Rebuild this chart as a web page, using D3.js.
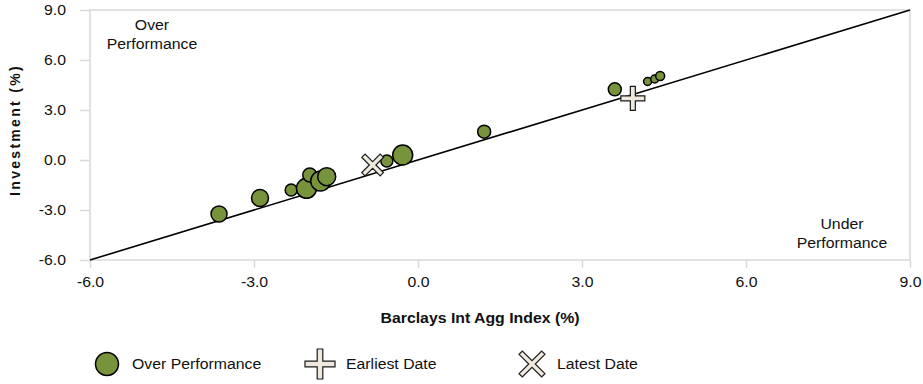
<!DOCTYPE html>
<html><head><meta charset="utf-8">
<script src="https://cdn.jsdelivr.net/npm/d3@7"></script>
<style>body{margin:0;background:#fff;}svg{display:block;font-family:"Liberation Sans",Arial,sans-serif;}</style>
</head><body>
<svg id="c" width="923" height="384"></svg>
<script>
const xVals = [-3.64, -2.89, -2.32, -2.04, -1.98, -1.78, -1.67, -0.57, -0.28, 1.21, 3.60, 4.20, 4.33, 4.43];
const yVals = [-3.24, -2.28, -1.80, -1.70, -0.90, -1.26, -1.00, -0.06, 0.30, 1.70, 4.24, 4.71, 4.86, 5.04];
const weights = [64, 72, 36, 100, 49, 100, 81, 36, 100, 42, 42, 16, 16, 20];
const earliest = [3.93, 3.70];
const latest = [-0.83, -0.30];
const ticks = [-6.0, -3.0, 0.0, 3.0, 6.0, 9.0];
const legendLabels = ["Over Performance", "Earliest Date", "Latest Date"];

const svg = d3.select("#c");
const x = d3.scaleLinear().domain([-6, 9]).range([90, 910]);
const y = d3.scaleLinear().domain([-6, 9]).range([260, 10]);
const r = d3.scaleSqrt().domain([0, 100]).range([0, 10]);
const grid = "#d9d9d9";
const green = "#77933c";
const markFill = "#efe9dd";
const fmt = v => d3.format(".1f")(v).replace("\u2212", "-");
const FS = 14;
const STRETCH = 1.13;

// frame
svg.append("rect").attr("x", x(-6)).attr("y", y(9)).attr("width", x(9) - x(-6)).attr("height", y(-6) - y(9))
  .attr("fill", "none").attr("stroke", grid).attr("stroke-width", 1.5);

// axes
const xAxis = svg.append("g").attr("transform", `translate(0,${y(-6)})`)
  .call(d3.axisBottom(x).tickValues(ticks).tickFormat(fmt).tickSize(8).tickPadding(8));
const yAxis = svg.append("g").attr("transform", `translate(${x(-6)},0)`)
  .call(d3.axisLeft(y).tickValues(ticks).tickFormat(fmt).tickSize(10).tickPadding(14));
[xAxis, yAxis].forEach(a => {
  a.select(".domain").remove();
  a.selectAll(".tick line").attr("stroke", grid).attr("stroke-width", 1.5);
  a.selectAll(".tick text").attr("font-size", FS).attr("fill", "#111").attr("font-family", '"Liberation Sans",Arial,sans-serif').classed("st", true);
});
xAxis.selectAll(".tick text").attr("dy", "0.8em");

// diagonal
svg.append("line").attr("x1", x(-6)).attr("y1", y(-6)).attr("x2", x(9)).attr("y2", y(9))
  .attr("stroke", "#000").attr("stroke-width", 1.6);

// axis titles
svg.append("text").attr("class", "st").attr("x", 480).attr("y", 323).attr("text-anchor", "middle")
  .attr("font-size", FS).attr("font-weight", "bold").attr("fill", "#111").text("Barclays Int Agg Index (%)");
svg.append("text").attr("transform", "translate(20,130) rotate(-90)").attr("text-anchor", "middle")
  .attr("font-size", FS).attr("font-weight", "bold").attr("letter-spacing", 2.3).attr("fill", "#111").text("Investment (%)");

// corner notes
const notes = [{t: ["Over", "Performance"], cx: 152, cy: 30}, {t: ["Under", "Performance"], cx: 842, cy: 229}];
notes.forEach(n => {
  const tx = svg.append("text").attr("text-anchor", "middle").attr("font-size", FS).attr("fill", "#111");
  n.t.forEach((s, i) => tx.append("tspan").attr("class", "st").attr("x", n.cx).attr("y", n.cy + i * 19).text(s));
});

// shapes
function plusPath(s, t) {
  return `M${-t},${-s}H${t}V${-t}H${s}V${t}H${t}V${s}H${-t}V${t}H${-s}V${-t}H${-t}Z`;
}
function drawPlus(g, cx, cy, s, t, rot) {
  g.append("path").attr("d", plusPath(s, t)).attr("transform", `translate(${cx},${cy}) rotate(${rot})`)
    .attr("fill", markFill).attr("stroke", "#1a1a1a").attr("stroke-width", 1.2);
}

// bubbles
const pts = xVals.map((v, i) => ({x: v, y: yVals[i], w: weights[i]}));
svg.append("g").selectAll("circle").data(pts).join("circle")
  .attr("cx", d => x(d.x)).attr("cy", d => y(d.y)).attr("r", d => r(d.w))
  .attr("fill", green).attr("stroke", "#000").attr("stroke-width", 1.5);

drawPlus(svg, x(earliest[0]), y(earliest[1]), 12, 2.5, 0);
drawPlus(svg, x(latest[0]), y(latest[1]), 13, 2.3, 45);

// legend
const lg = svg.append("g");
const ly = 364;
lg.append("circle").attr("cx", 107).attr("cy", ly).attr("r", 11.5).attr("fill", green).attr("stroke", "#000").attr("stroke-width", 1.5);
drawPlus(lg, 320, ly, 15, 2.8, 0);
drawPlus(lg, 532, ly, 16, 2.3, 45);
const lx = [132, 346, 557];
legendLabels.forEach((s, i) => lg.append("text").attr("class", "st").attr("x", lx[i]).attr("y", ly + 5).attr("font-size", FS).attr("fill", "#111").text(s));

// horizontal stretch of text to match reference glyph widths
svg.selectAll(".st").each(function() {
  const w = this.getComputedTextLength();
  d3.select(this).attr("textLength", w * STRETCH).attr("lengthAdjust", "spacingAndGlyphs");
});
</script>
</body></html>
